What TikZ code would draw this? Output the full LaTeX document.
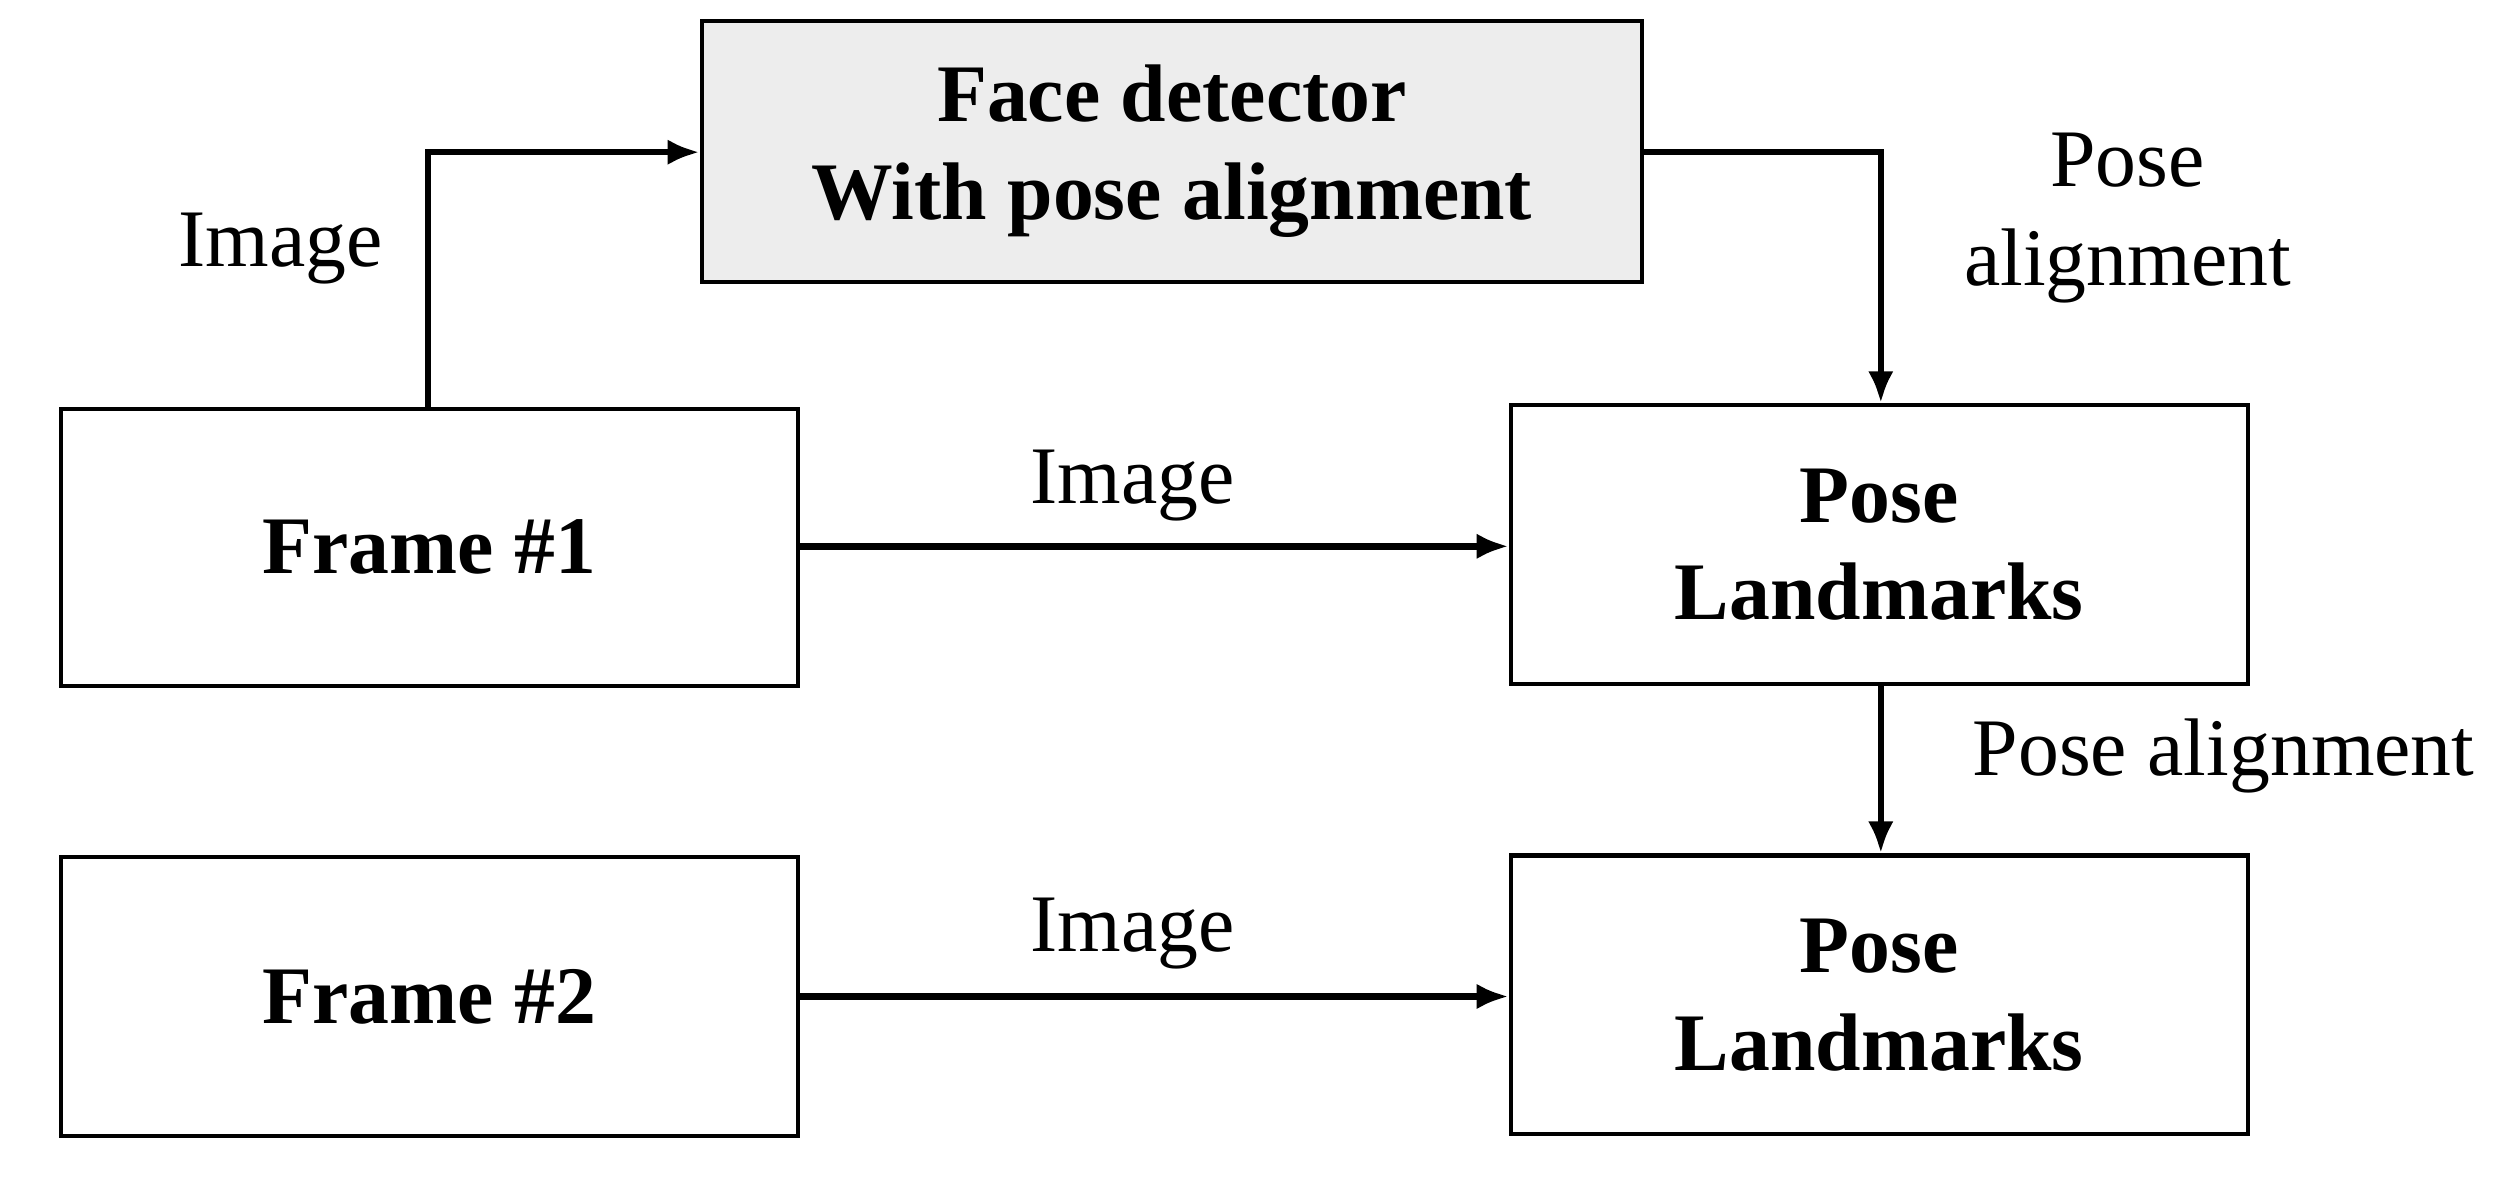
\documentclass[tikz,border=0pt]{standalone}
\usepackage{fontspec}
\setmainfont{Liberation Serif}
\usetikzlibrary{arrows.meta}
\begin{document}
\begin{tikzpicture}[x=1pt,y=-1pt,
  box/.style={draw,line width=2.5pt,inner sep=0pt,font=\fontsize{51}{61}\selectfont\bfseries,align=center},
  lbl/.style={font=\fontsize{51}{62}\selectfont,align=center},
  con/.style={line width=4pt,-{Latex[length=20pt,width=16pt]}}]
\useasboundingbox (0,0) rectangle (1568,741);
\node[box,fill=black!7,minimum width=587pt,minimum height=163pt] (fd) at (731.5,94.5) {Face detector\\With pose alignment};
\node[box,minimum width=460pt,minimum height=173pt] (f1) at (268,341.5) {Frame \#1};
\node[box,minimum width=460pt,minimum height=174pt] (p1) at (1173,340) {Pose\\Landmarks};
\node[box,minimum width=460pt,minimum height=174pt] (f2) at (268,622) {Frame \#2};
\node[box,minimum width=460pt,minimum height=174pt] (p2) at (1173,621) {Pose\\Landmarks};
\coordinate (c1) at (267,95);
\coordinate (c2) at (1174,95);
\draw[con] (f1.north -| c1) -- (c1) -- (fd.west |- c1);
\draw[con] (fd.east |- c2) -- (c2) -- (p1.north -| c2);
\draw[con] (f1.east |- 0,341) -- (p1.west |- 0,341);
\draw[con] (p1.south -| c2) -- (p2.north -| c2);
\draw[con] (f2.east |- 0,622) -- (p2.west |- 0,622);
\node[lbl] (l1) at (175,155) {Image};
\node[lbl] (l2) at (1328,136) {Pose\\alignment};
\node[lbl] (l3) at (707,303) {Image};
\node[lbl] (l4) at (707,583) {Image};
\node[lbl] (l5) at (1388,472) {Pose alignment};
\end{tikzpicture}
\end{document}
